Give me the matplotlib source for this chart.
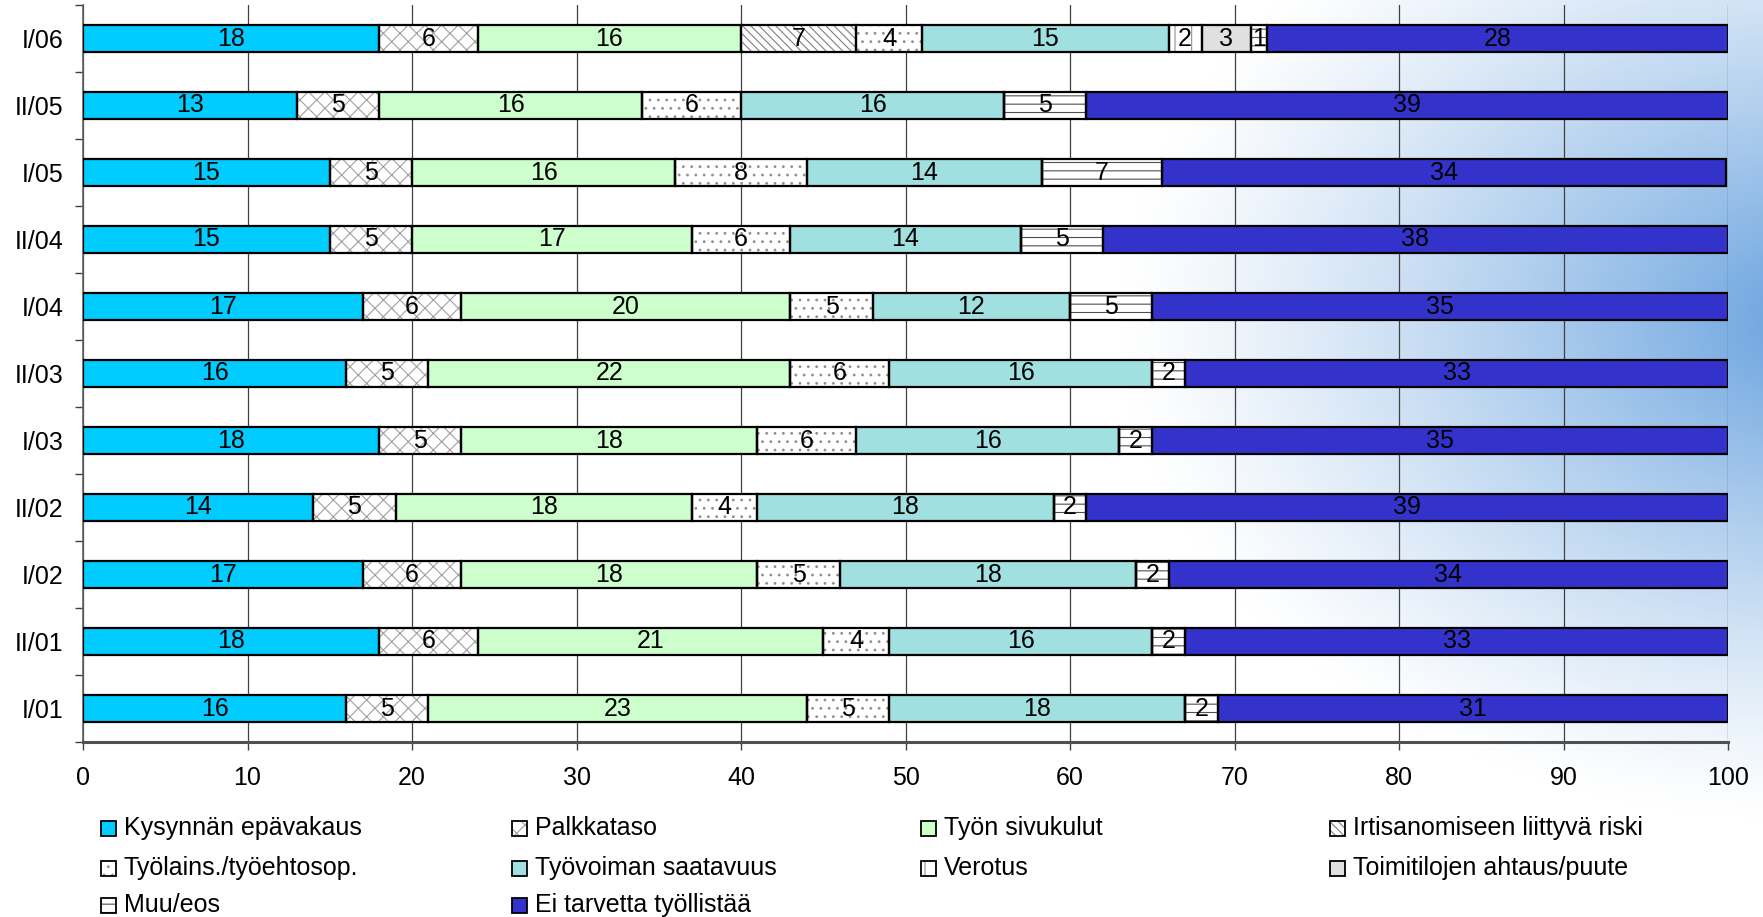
import numpy as np
import matplotlib
matplotlib.use("Agg")
import matplotlib.pyplot as plt
from matplotlib.patches import Rectangle

plt.rcParams['font.family'] = ['Liberation Sans', 'DejaVu Sans']
plt.rcParams['hatch.linewidth'] = 0.8

# categories, bottom to top
periods = ['I/01', 'II/01', 'I/02', 'II/02', 'I/03', 'II/03',
           'I/04', 'II/04', 'I/05', 'II/05', 'I/06']

kysynta = [16, 18, 17, 14, 18, 16, 17, 15, 15, 13, 18]
palkkataso = [5, 6, 6, 5, 5, 5, 6, 5, 5, 5, 6]
sivukulut = [23, 21, 18, 18, 18, 22, 20, 17, 16, 16, 16]
irtisanominen = [0, 0, 0, 0, 0, 0, 0, 0, 0, 0, 7]
tyolains = [5, 4, 5, 4, 6, 6, 5, 6, 8, 6, 4]
saatavuus = [18, 16, 18, 18, 16, 16, 12, 14, 14.3, 16, 15]
verotus = [0, 0, 0, 0, 0, 0, 0, 0, 0, 0, 2]
toimitilat = [0, 0, 0, 0, 0, 0, 0, 0, 0, 0, 3]
muu = [2, 2, 2, 2, 2, 2, 5, 5, 7.3, 5, 1]
ei_tarvetta = [31, 33, 34, 39, 35, 33, 35, 38, 34.3, 39, 28]

series_names = ['Kysynnän epävakaus', 'Palkkataso', 'Työn sivukulut',
                'Irtisanomiseen liittyvä riski', 'Työlains./työehtosop.',
                'Työvoiman saatavuus', 'Verotus', 'Toimitilojen ahtaus/puute',
                'Muu/eos', 'Ei tarvetta työllistää']
series = [kysynta, palkkataso, sivukulut, irtisanominen, tyolains,
          saatavuus, verotus, toimitilat, muu, ei_tarvetta]

# style per series: facecolor, hatch, hatch colour
styles = [('#00CCFF', None, None),
          ('#FFFFFF', 'xx', '#a0a0a0'),
          ('#CCFFCC', None, None),
          ('#FFFFFF', '\\\\\\\\', '#808080'),
          ('#FFFFFF', '..', '#909090'),
          ('#A0E0E0', None, None),
          ('#FFFFFF', '|', '#909090'),
          ('#E0E0E0', None, None),
          ('#FFFFFF', '--', '#505050'),
          ('#3333CC', None, None)]

fig = plt.figure(figsize=(17.63, 9.17), dpi=100)

# background glow on the right
bg = fig.add_axes([0, 0, 1, 1], zorder=-10)
h, w = 917, 1763
yy, xx = np.mgrid[0:h, 0:w]
d = np.sqrt(((xx - 1820) / 700.0) ** 2 + ((yy - 320) / 500.0) ** 2)
a = np.clip(1 - d, 0, 1) ** 1.2
blue = np.array([0.40, 0.63, 0.87])
img = 1 - a[..., None] * (1 - blue)
bg.imshow(img, extent=[0, 1, 0, 1], aspect='auto', origin='upper')
bg.axis('off')

ax = fig.add_axes([83 / 1763, 1 - 742 / 917, (1728 - 83) / 1763, (742 - 5) / 917])
ax.set_facecolor('none')

fs = 18
y = np.arange(len(periods))
bar_h = 0.41
left = np.zeros(len(periods))
for vals, (fc, hatch, hc) in zip(series, styles):
    vals = np.array(vals, dtype=float)
    ax.barh(y, vals, left=left, height=bar_h, color=fc, hatch=hatch,
            edgecolor=hc if hc else fc, linewidth=0, zorder=2)
    ax.barh(y, vals, left=left, height=bar_h, fill=False,
            edgecolor='black', linewidth=1.6, zorder=3)
    for yi, l, v in zip(y, left, vals):
        if v > 0:
            ax.text(l + v / 2, yi, f'{v:.0f}', ha='center', va='center',
                    fontsize=fs, color='black', zorder=4)
    left = left + vals

ax.set_xlim(0, 100)
ax.set_ylim(-0.5, len(periods) - 0.5)
ax.set_xticks(np.arange(0, 101, 10))
ax.tick_params(axis='x', direction='out', length=6, width=1, color='#404040',
               labelsize=fs, pad=11)
ax.set_yticks(np.arange(-0.5, len(periods), 1))
ax.set_yticklabels([])
ax.set_yticks(y, periods, minor=True)
ax.tick_params(axis='y', which='major', direction='out', length=6, width=1, color='#404040')
ax.tick_params(axis='y', which='minor', length=0, labelsize=fs, pad=14)
ax.xaxis.grid(True, color='#404040', linewidth=0.9, zorder=1)
ax.set_axisbelow(True)
for s in ['top', 'right']:
    ax.spines[s].set_visible(False)
ax.spines['left'].set_color('#606060')
ax.spines['left'].set_linewidth(1.2)
ax.spines['bottom'].set_color('#505050')
ax.spines['bottom'].set_linewidth(2.2)

# legend laid out in Excel style rows
col_x = [101, 512, 921, 1330]
row_y = [828, 868, 905]
box = 15
for i, (name, (fc, hatch, hc)) in enumerate(zip(series_names, styles)):
    r, c = divmod(i, 4)
    x0 = col_x[c] / w
    y0 = 1 - (row_y[r] + box / 2) / h
    fig.patches.append(Rectangle((x0, y0), box / w, box / h, transform=fig.transFigure,
                                 facecolor=fc, hatch=hatch, edgecolor=hc if hc else fc,
                                 linewidth=0))
    fig.patches.append(Rectangle((x0, y0), box / w, box / h, transform=fig.transFigure,
                                 fill=False, edgecolor='black', linewidth=1.3))
    fig.text((col_x[c] + 23) / w, 1 - row_y[r] / h, name, ha='left', va='center',
             fontsize=fs)

fig.savefig('out.png', dpi=100)
